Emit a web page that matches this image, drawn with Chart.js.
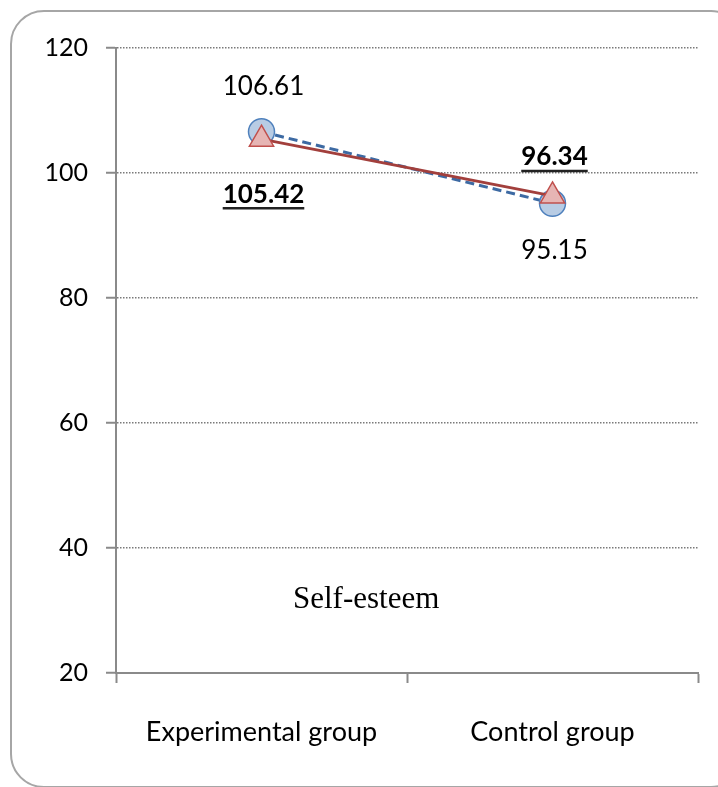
<!DOCTYPE html>
<html>
<head>
<meta charset="utf-8">
<script src="https://cdn.jsdelivr.net/npm/chart.js@4"></script>
<style>
  html, body { margin: 0; padding: 0; background: #fff; overflow: hidden; }
  #wrap { position: relative; width: 718px; height: 787px; overflow: hidden; }
  #frame {
    position: absolute; left: 10px; top: 10px; width: 735px; height: 778px;
    border: 2px solid #a6a6a6; border-radius: 34px; box-sizing: border-box;
  }
  canvas { position: absolute; left: 0; top: 0; }
</style>
</head>
<body>
<div id="wrap">
  <div id="frame"></div>
  <canvas id="chart" width="718" height="787"></canvas>
</div>
<script>
// data
const categories = ["Experimental group", "Control group"];
const circleValues = [106.61, 95.15];
const triangleValues = [105.42, 96.34];
const yTicks = [20, 40, 60, 80, 100, 120];
const chartTitle = "Self-esteem";

// data labels drawn next to each point
const pointLabels = {
  id: "pointLabels",
  afterDatasetsDraw(chart) {
    const ctx = chart.ctx;
    ctx.save();
    chart.data.datasets.forEach((ds, i) => {
      const meta = chart.getDatasetMeta(i);
      meta.data.forEach((pt, j) => {
        const txt = ds.data[j].toFixed(2);
        const off = ds.labelOffsets[j];
        ctx.font = (ds.labelBold ? "bold " : "") + "26px Lato";
        ctx.fillStyle = "#000";
        ctx.textAlign = "center";
        ctx.textBaseline = "middle";
        const x = pt.x + 2;
        const y = pt.y + off;
        ctx.fillText(txt, x, y);
        if (ds.labelBold) {
          const w = ctx.measureText(txt).width;
          ctx.strokeStyle = "#222";
          ctx.lineWidth = 2.5;
          ctx.beginPath();
          ctx.moveTo(x - w / 2, y + 14);
          ctx.lineTo(x + w / 2, y + 14);
          ctx.stroke();
        }
      });
    });
    // title inside the plot
    ctx.font = "31px 'Liberation Serif'";
    ctx.textAlign = "left";
    ctx.textBaseline = "alphabetic";
    ctx.fillStyle = "#000";
    ctx.fillText(chartTitle, 293, 608);
    ctx.restore();
  }
};

new Chart(document.getElementById("chart"), {
  type: "line",
  data: {
    labels: categories,
    datasets: [
      {
        data: triangleValues,
        borderColor: "#a23f3c",
        borderWidth: 3,
        pointStyle: "triangle",
        pointRadius: 14,
        pointBackgroundColor: "#e6b5b4",
        pointBorderColor: "#c0504d",
        pointBorderWidth: 1.5,
        labelOffsets: [55, -39],
        labelBold: true
      },
      {
        data: circleValues,
        borderColor: "#3d6aa3",
        borderWidth: 3,
        borderDash: [9, 5],
        pointStyle: "circle",
        pointRadius: 13,
        pointBackgroundColor: "#b8cce4",
        pointBorderColor: "#4f81bd",
        pointBorderWidth: 1.5,
        labelOffsets: [-45, 47],
        labelBold: false
      }
    ]
  },
  options: {
    responsive: false,
    animation: false,
    layout: { padding: { top: 48, right: 20, left: 0, bottom: 0 } },
    plugins: { legend: { display: false }, tooltip: { enabled: false } },
    scales: {
      x: {
        offset: true,
        afterFit(scale) { scale.height = 114; },
        grid: {
          offset: true,
          drawOnChartArea: false,
          tickLength: 10,
          tickColor: "#8a8a8a",
          tickWidth: 2
        },
        border: { color: "#8a8a8a", width: 2 },
        ticks: { color: "#000", font: { family: "Lato", size: 27 }, padding: 33 }
      },
      y: {
        min: yTicks[0],
        max: yTicks[yTicks.length - 1],
        afterFit(scale) { scale.width = 116; },
        afterBuildTicks(scale) { scale.ticks = yTicks.map(v => ({ value: v })); },
        grid: {
          color: "#7a7a7a",
          lineWidth: 1.5,
          tickBorderDash: [],
          tickLength: 10,
          tickColor: "#8a8a8a",
          tickWidth: 2
        },
        border: { color: "#8a8a8a", width: 2, dash: [1.5, 1.5] },
        ticks: { color: "#000", font: { family: "Lato", size: 25 }, padding: 18 }
      }
    }
  },
  plugins: [pointLabels]
});
</script>
</body>
</html>
